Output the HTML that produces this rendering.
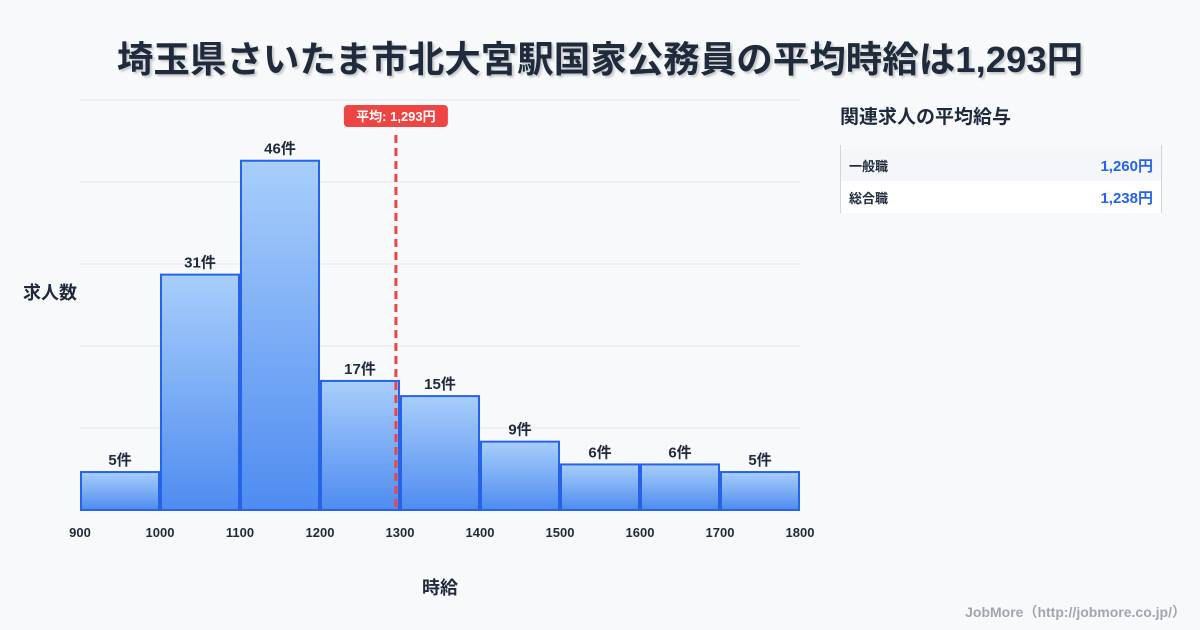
<!DOCTYPE html>
<html><head><meta charset="utf-8"><style>
body{margin:0;width:1200px;height:630px;background:#f8f9fb;font-family:"Liberation Sans","Noto Sans CJK JP",sans-serif;overflow:hidden;position:relative;color:#1f2a3c}
.title{position:absolute;top:30px;left:0;width:1200px;text-align:center;font-size:36.5px;font-weight:bold;color:#1f2a3c;text-shadow:2px 2px 2px rgba(0,0,0,0.2)}
.side{position:absolute;left:840px;top:102px}
.side h2{margin:0;font-size:19px;font-weight:bold;color:#1f2a3c}
.tbl{position:absolute;left:840px;top:145px;width:320px;border-left:1px solid #cfd6e0;border-right:1px solid #cfd6e0}
.row{height:32px;display:flex;justify-content:space-between;align-items:center;padding:0 8px;font-size:13px;font-weight:bold}
.row .v{color:#2563eb;font-size:15px}
.foot{position:absolute;right:14px;bottom:8px;font-size:14px;color:#a0a6b0;font-weight:bold}
</style></head><body>
<div class="title">埼玉県さいたま市北大宮駅国家公務員の平均時給は1,293円</div>
<svg id="chart" width="1200" height="630" style="position:absolute;left:0;top:0">
<defs><linearGradient id="g" x1="0" y1="0" x2="0" y2="1"><stop offset="0" stop-color="#a8cefb"/><stop offset="1" stop-color="#4f8cf0"/></linearGradient></defs>
</svg>
<div class="side"><h2>関連求人の平均給与</h2></div>
<div class="tbl">
<div class="row" style="background:#f4f6f9;margin-top:4px"><span>一般職</span><span class="v">1,260円</span></div>
<div class="row" style="background:#fff"><span>総合職</span><span class="v">1,238円</span></div>
</div>
<div class="foot">JobMore（http://jobmore.co.jp/）</div>
<script>
const binStarts=[900,1000,1100,1200,1300,1400,1500,1600,1700];
const counts=[5,31,46,17,15,9,6,6,5];
const xTicks=[900,1000,1100,1200,1300,1400,1500,1600,1700,1800];
const avgValue=1293;
const avgLabel="平均: 1,293円";
const NS="http://www.w3.org/2000/svg";
const svg=document.getElementById('chart');
const x0=80,x1=800,yB=510,yT=100,xmin=900,xmax=1800,ymax=54;
const X=v=>x0+(v-xmin)/(xmax-xmin)*(x1-x0);
const Y=v=>yB-v/ymax*(yB-yT);
function mk(t,a){const e=document.createElementNS(NS,t);for(const k in a)e.setAttribute(k,a[k]);svg.appendChild(e);return e;}
for(let i=0;i<=5;i++){const y=yT+i*(yB-yT)/5;
const g=mk('line',{x1:x0,x2:x1,y1:y,y2:y,stroke:'#e3e8ef','stroke-width':1});

}
binStarts.forEach((b,i)=>{const xa=X(b)+1,xb=X(b+100)-1,y=Y(counts[i]);
const r=mk('rect',{x:xa,y:y,width:xb-xa,height:yB-y,fill:'url(#g)',stroke:'#2563eb','stroke-width':2});


const t=mk('text',{x:(xa+xb)/2,y:y-7,'text-anchor':'middle','font-size':15,'font-weight':'bold',fill:'#1f2a3c'});t.textContent=counts[i]+'件';

});
xTicks.forEach(v=>{const t=mk('text',{x:X(v),y:537,'text-anchor':'middle','font-size':13,'font-weight':'bold',fill:'#1f2a3c'});t.textContent=v;

});
const ax=X(avgValue)+1.5;
const l=mk('line',{x1:ax,x2:ax,y1:135,y2:yB,stroke:'#ef4444','stroke-width':3,'stroke-dasharray':'8,5'});


const bx=mk('rect',{x:ax-52,y:105,width:104,height:22,rx:4,fill:'#ef4444'});


const at=mk('text',{x:ax,y:121,'text-anchor':'middle','font-size':13,'font-weight':'bold',fill:'#fff'});at.textContent=avgLabel;


const yt=mk('text',{x:50,y:299,'text-anchor':'middle','font-size':18,'font-weight':'bold',fill:'#1f2a3c'});yt.textContent='求人数';


const xt=mk('text',{x:440,y:594,'text-anchor':'middle','font-size':18,'font-weight':'bold',fill:'#1f2a3c'});xt.textContent='時給';


</script>
</body></html>
